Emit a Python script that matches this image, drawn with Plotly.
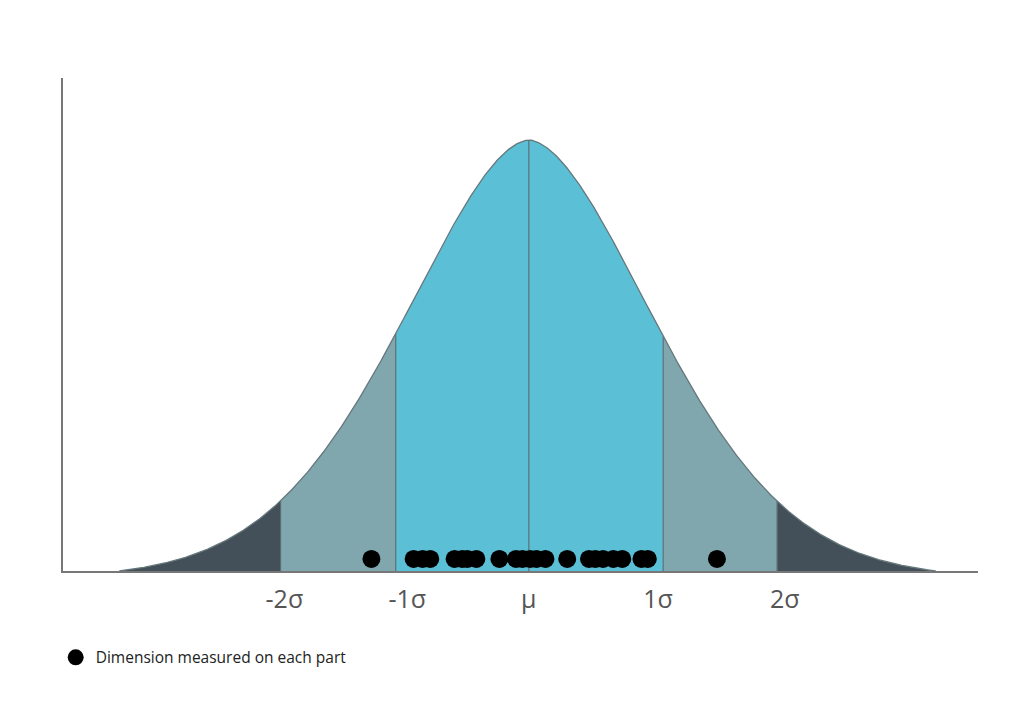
import numpy as np
import plotly.graph_objects as go

# Region boundaries along the x axis (sigma-like units)
boundaries = [-1.94, -1.04, 0.0, 1.05, 1.94]
x_min, x_max = -3.64, 3.51
curve_ends = [-3.2, 3.18]

# Tick labels and their positions
tick_labels = ["-2σ", "-1σ", "μ", "1σ", "2σ"]
tick_pos = [-1.91, -0.95, 0.0, 1.01, 2.0]

# Measured dimension of each part (dots)
measurements = [-1.23, -0.90, -0.83, -0.77, -0.58, -0.52, -0.48, -0.41,
                -0.23, -0.10, -0.05, 0.01, 0.06, 0.13, 0.30, 0.47,
                0.52, 0.58, 0.66, 0.73, 0.88, 0.93, 1.47]
dot_level = 0.028

# Bell curve shape parameters
shape_a, shape_p = 1.414, 1.75

colors_region = ["#434f59", "#7fa7ad", "#5bc0d6", "#5bc0d6", "#7fa7ad", "#434f59"]


def _raw(x):
    return np.exp(-(np.abs(np.asarray(x, dtype=float)) / shape_a) ** shape_p)


def bell(x):
    x = np.asarray(x, dtype=float)
    end = np.where(x < 0, _raw(curve_ends[0]), _raw(curve_ends[1]))
    return np.clip((_raw(x) - end) / (1 - end), 0, None)


fig = go.Figure()

edges = [curve_ends[0]] + boundaries + [curve_ends[1]]
for i in range(len(edges) - 1):
    lo, hi = edges[i], edges[i + 1]
    xs = np.linspace(lo, hi, 200)
    ys = bell(xs)
    px = np.concatenate([xs, [hi, lo]])
    py = np.concatenate([ys, [0, 0]])
    fig.add_trace(go.Scatter(x=px, y=py, fill="toself", fillcolor=colors_region[i],
                             mode="lines", line=dict(width=0), hoverinfo="skip",
                             showlegend=False))

# vertical separators
for b in boundaries:
    fig.add_trace(go.Scatter(x=[b, b], y=[0, float(bell(b))], mode="lines",
                             line=dict(color="#5d6d72", width=1.2),
                             hoverinfo="skip", showlegend=False))

# curve outline
xc = np.linspace(curve_ends[0], curve_ends[1], 800)
fig.add_trace(go.Scatter(x=xc, y=bell(xc), mode="lines",
                         line=dict(color="#66777c", width=1.3),
                         hoverinfo="skip", showlegend=False))

# dots
fig.add_trace(go.Scatter(x=measurements, y=[dot_level] * len(measurements),
                         mode="markers", marker=dict(color="black", size=18),
                         name="Dimension measured on each part", showlegend=True))

fig.update_layout(
    width=1024, height=725,
    margin=dict(l=63, r=46, t=78, b=154),
    paper_bgcolor="white", plot_bgcolor="white",
    font=dict(family="Open Sans", color="#555555"),
    xaxis=dict(range=[x_min, x_max], showgrid=False, zeroline=False,
               showline=True, linecolor="#777777", linewidth=2,
               tickmode="array", tickvals=tick_pos, ticktext=tick_labels,
               ticks="", tickfont=dict(size=25, color="#555555"),
               ticklabelstandoff=5),
    yaxis=dict(range=[0, 1.144], showgrid=False, zeroline=False,
               showline=True, linecolor="#777777", linewidth=2,
               showticklabels=False, ticks=""),
    legend=dict(x=-0.008, y=-0.176, xanchor="left", yanchor="middle",
                font=dict(size=15.5, color="#222222"), bgcolor="rgba(0,0,0,0)"),
    showlegend=True,
)

fig.write_html("out.html")
